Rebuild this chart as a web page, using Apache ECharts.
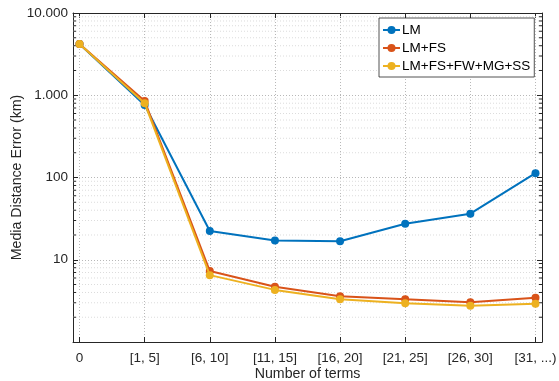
<!DOCTYPE html>
<html>
<head>
<meta charset="utf-8">
<script src="https://cdn.jsdelivr.net/npm/echarts@6/dist/echarts.min.js"></script>
<style>html,body{margin:0;padding:0;background:#fff}#c{width:559px;height:381px}</style>
</head>
<body>
<div id="c"></div>
<script>
const categories = ['0', '[1, 5]', '[6, 10]', '[11, 15]', '[16, 20]', '[21, 25]', '[26, 30]', '[31, ...)'];
const lm = [4200, 760, 22.4, 17.1, 16.8, 27.4, 36.3, 113];
const lmFs = [4200, 850, 7.3, 4.7, 3.6, 3.3, 3.05, 3.45];
const lmAll = [4200, 800, 6.5, 4.3, 3.3, 2.95, 2.76, 2.92];
const seriesNames = ['LM', 'LM+FS', 'LM+FS+FW+MG+SS'];
const colors = ['#0072BD', '#D95319', '#EDB120'];

const X_MIN = -0.1, X_MAX = 7.1;
const tickPos = categories.map((c, i) => i);
const minorVals = [];
for (let k = 0; k < 4; k++) for (let m = 2; m <= 9; m++) minorVals.push([0, m * Math.pow(10, k)]);

const font = "'Liberation Sans', Arial, Helvetica, sans-serif";
const txt = '#262626';

function fmtY(v) {
  if (Math.abs(v - 1) < 1e-9) return '';
  return Math.round(v).toString().replace(/\B(?=(\d{3})+(?!\d))/g, '.');
}

const chart = echarts.init(document.getElementById('c'), null, {renderer: 'canvas'});

const mk = (data) => data.map((v, i) => [i, v]);

chart.setOption({
  animation: false,
  backgroundColor: '#fff',
  textStyle: {fontFamily: font, color: txt},
  grid: {left: 73, right: 17, top: 13, bottom: 39, containLabel: false, outerBoundsMode: 'none'},
  legend: {
    data: seriesNames,
    orient: 'vertical',
    left: 379, top: 18,
    backgroundColor: '#fff',
    borderColor: txt, borderWidth: 0.8, borderRadius: 0,
    padding: [5, 4, 4, 3],
    itemGap: 4,
    itemWidth: 17, itemHeight: 10,
    textStyle: {fontFamily: font, fontSize: 13.5, color: '#000', padding: [0, 0, 0, -3]}
  },
  xAxis: [{
    type: 'value', min: X_MIN, max: X_MAX, position: 'bottom',
    name: 'Number of terms', nameLocation: 'middle', nameGap: 25, nameMoveOverlap: false,
    nameTextStyle: {fontFamily: font, fontSize: 14.2, color: txt},
    axisLine: {show: true, onZero: false, lineStyle: {color: txt, width: 1}},
    axisTick: {show: true, inside: true, length: 5, customValues: tickPos, lineStyle: {color: txt}},
    axisLabel: {show: true, customValues: tickPos, margin: 9, fontSize: 13.5, color: txt, fontFamily: font,
      formatter: v => categories[Math.round(v)] ?? ''},
    splitLine: {show: true, lineStyle: {color: '#b8b8b8', type: [1, 2], width: 1}}
  }, {
    type: 'value', min: X_MIN, max: X_MAX, position: 'top',
    axisLine: {show: true, onZero: false, lineStyle: {color: txt, width: 1}},
    axisTick: {show: true, inside: true, length: 5, customValues: tickPos, lineStyle: {color: txt}},
    axisLabel: {show: false, customValues: tickPos},
    splitLine: {show: false}
  }],
  yAxis: [{
    type: 'log', logBase: 10, min: 1, max: 10000, position: 'left',
    name: 'Media Distance Error (km)', nameLocation: 'middle', nameGap: 49, nameMoveOverlap: false,
    nameTextStyle: {fontFamily: font, fontSize: 14.2, color: txt},
    axisLine: {show: true, onZero: false, lineStyle: {color: txt, width: 1}},
    axisTick: {show: true, inside: true, length: 5, lineStyle: {color: txt}},
    axisLabel: {show: true, margin: 5, fontSize: 13.5, color: txt, fontFamily: font, formatter: fmtY, showMinLabel: false},
    splitLine: {show: true, lineStyle: {color: '#b8b8b8', type: [1, 2], width: 1}}
  }, {
    type: 'log', logBase: 10, min: 1, max: 10000, position: 'right',
    axisLine: {show: true, onZero: false, lineStyle: {color: txt, width: 1}},
    axisTick: {show: true, inside: true, length: 5, lineStyle: {color: txt}},
    axisLabel: {show: false},
    splitLine: {show: false}
  }],
  series: [{
    name: '_minor', type: 'custom', silent: true, z: 1, clip: false,
    xAxisIndex: 0, yAxisIndex: 0,
    encode: {x: 0, y: 1},
    data: minorVals,
    renderItem: function (params, api) {
      const v = api.value(1);
      const p1 = api.coord([X_MIN, v]);
      const p2 = api.coord([X_MAX, v]);
      return {
        type: 'group',
        children: [
          {type: 'line', shape: {x1: p1[0], y1: p1[1], x2: p2[0], y2: p2[1]},
           style: {stroke: '#dcdcdc', lineWidth: 1, lineDash: [1, 2]}},
          {type: 'line', shape: {x1: p1[0], y1: p1[1], x2: p1[0] + 3, y2: p1[1]},
           style: {stroke: txt, lineWidth: 1}},
          {type: 'line', shape: {x1: p2[0] - 3, y1: p2[1], x2: p2[0], y2: p2[1]},
           style: {stroke: txt, lineWidth: 1}}
        ]
      };
    }
  }].concat([lm, lmFs, lmAll].map((d, i) => ({
    name: seriesNames[i], type: 'line', z: 3 + i,
    data: mk(d),
    color: colors[i],
    symbol: 'circle', symbolSize: 8,
    lineStyle: {width: 2, color: colors[i]},
    itemStyle: {color: colors[i]}
  })))
});
</script>
</body>
</html>
